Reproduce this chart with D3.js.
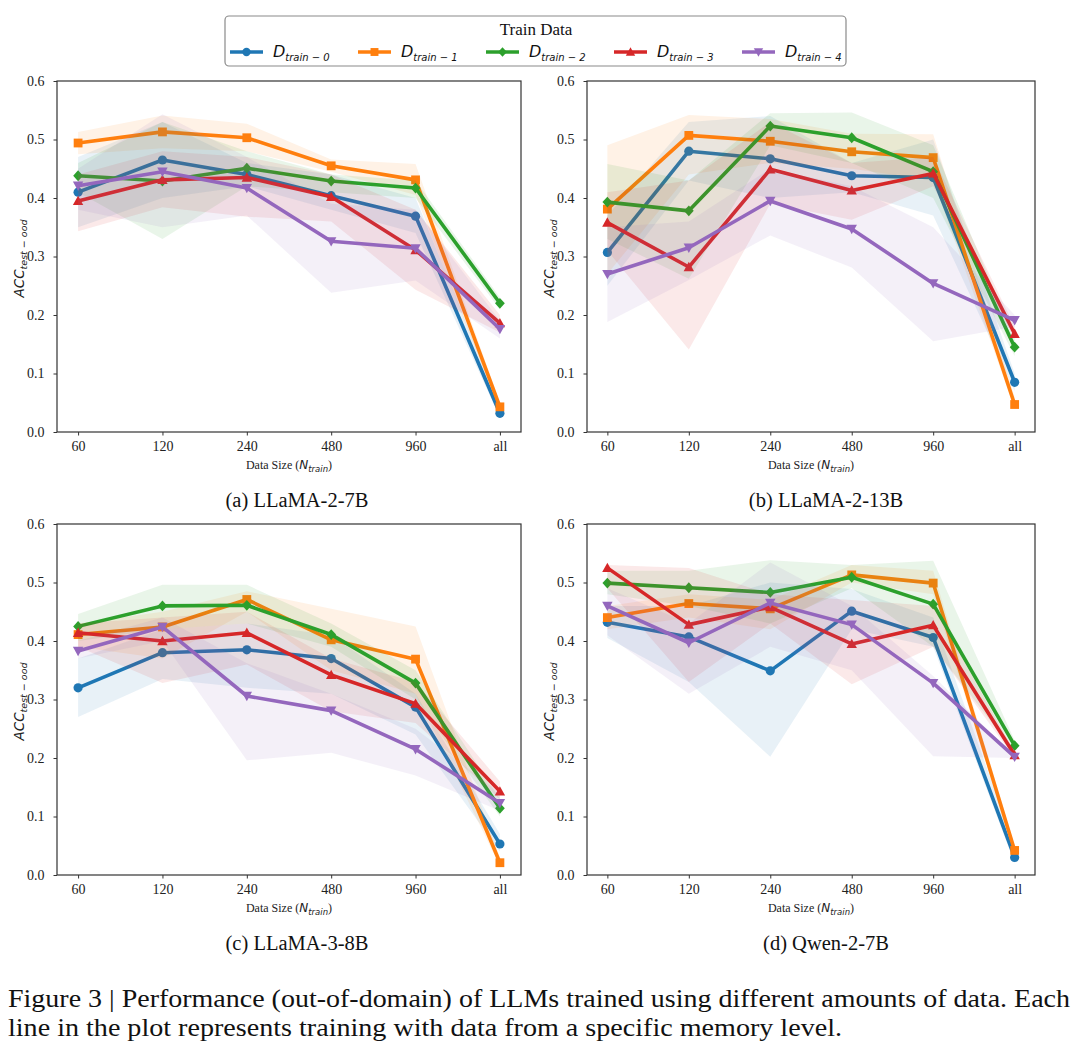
<!DOCTYPE html>
<html><head><meta charset="utf-8">
<script src="https://cdn.jsdelivr.net/npm/d3@7"></script>
<style>body{margin:0;background:#fff} svg{display:block}</style>
</head><body>
<svg id="fig" width="1080" height="1050"></svg>
<script>
// ---------------- data ----------------
const categories = ["60", "120", "240", "480", "960", "all"];
const seriesSubs = ["train − 0", "train − 1", "train − 2", "train − 3", "train − 4"];
const seriesColors = ["#1f77b4", "#ff7f0e", "#2ca02c", "#d62728", "#9467bd"];
const yTickValues = [0.0, 0.1, 0.2, 0.3, 0.4, 0.5, 0.6];
const subcaptions = ["(a) LLaMA-2-7B", "(b) LLaMA-2-13B", "(c) LLaMA-3-8B", "(d) Qwen-2-7B"];
const captionLines = [
  "Figure 3 | Performance (out-of-domain) of LLMs trained using different amounts of data. Each",
  "line in the plot represents training with data from a specific memory level."
];

// (a) LLaMA-2-7B
const llama2_7b_mean = [
  [0.410, 0.465, 0.440, 0.404, 0.369, 0.032],
  [0.494, 0.513, 0.503, 0.455, 0.431, 0.043],
  [0.438, 0.429, 0.451, 0.429, 0.417, 0.220],
  [0.395, 0.431, 0.435, 0.402, 0.311, 0.186],
  [0.421, 0.445, 0.417, 0.326, 0.314, 0.176]
];
const llama2_7b_lo = [
  [0.35, 0.40, 0.42, 0.38, 0.34, 0.025],
  [0.475, 0.485, 0.48, 0.445, 0.405, 0.035],
  [0.41, 0.33, 0.42, 0.41, 0.40, 0.21],
  [0.343, 0.384, 0.368, 0.36, 0.243, 0.17],
  [0.38, 0.35, 0.37, 0.238, 0.259, 0.16]
];
const llama2_7b_hi = [
  [0.47, 0.53, 0.46, 0.44, 0.40, 0.045],
  [0.513, 0.541, 0.527, 0.466, 0.458, 0.05],
  [0.46, 0.53, 0.48, 0.44, 0.43, 0.23],
  [0.44, 0.48, 0.47, 0.44, 0.38, 0.20],
  [0.45, 0.543, 0.47, 0.39, 0.38, 0.19]
];

// (b) LLaMA-2-13B
const llama2_13b_mean = [
  [0.307, 0.480, 0.467, 0.438, 0.435, 0.085],
  [0.381, 0.507, 0.497, 0.479, 0.469, 0.047],
  [0.393, 0.378, 0.523, 0.503, 0.445, 0.145],
  [0.358, 0.282, 0.449, 0.413, 0.442, 0.168],
  [0.270, 0.315, 0.395, 0.347, 0.254, 0.191]
];
const llama2_13b_lo = [
  [0.25, 0.43, 0.40, 0.41, 0.37, 0.07],
  [0.27, 0.44, 0.46, 0.45, 0.43, 0.04],
  [0.33, 0.262, 0.49, 0.46, 0.40, 0.13],
  [0.31, 0.141, 0.39, 0.363, 0.42, 0.16],
  [0.188, 0.26, 0.336, 0.281, 0.155, 0.18]
];
const llama2_13b_hi = [
  [0.37, 0.53, 0.54, 0.46, 0.50, 0.10],
  [0.49, 0.542, 0.535, 0.51, 0.509, 0.06],
  [0.458, 0.43, 0.545, 0.546, 0.49, 0.16],
  [0.41, 0.43, 0.53, 0.46, 0.47, 0.18],
  [0.35, 0.36, 0.45, 0.42, 0.35, 0.20]
];

// (c) LLaMA-3-8B
const llama3_8b_mean = [
  [0.320, 0.380, 0.385, 0.370, 0.287, 0.053],
  [0.411, 0.424, 0.471, 0.402, 0.369, 0.021],
  [0.425, 0.460, 0.461, 0.411, 0.328, 0.114],
  [0.414, 0.400, 0.414, 0.342, 0.293, 0.143],
  [0.383, 0.424, 0.306, 0.281, 0.215, 0.123]
];
const llama3_8b_lo = [
  [0.27, 0.335, 0.32, 0.31, 0.24, 0.04],
  [0.39, 0.37, 0.45, 0.35, 0.31, 0.015],
  [0.40, 0.42, 0.43, 0.39, 0.30, 0.10],
  [0.39, 0.328, 0.36, 0.28, 0.26, 0.13],
  [0.37, 0.40, 0.196, 0.209, 0.17, 0.11]
];
const llama3_8b_hi = [
  [0.37, 0.42, 0.43, 0.41, 0.31, 0.07],
  [0.43, 0.45, 0.485, 0.455, 0.425, 0.03],
  [0.446, 0.496, 0.496, 0.43, 0.35, 0.13],
  [0.43, 0.44, 0.45, 0.37, 0.33, 0.16],
  [0.40, 0.44, 0.362, 0.31, 0.25, 0.14]
];

// (d) Qwen-2-7B
const qwen2_7b_mean = [
  [0.432, 0.407, 0.349, 0.451, 0.406, 0.030],
  [0.440, 0.464, 0.455, 0.513, 0.499, 0.042],
  [0.499, 0.491, 0.483, 0.509, 0.463, 0.221],
  [0.525, 0.428, 0.458, 0.395, 0.427, 0.205],
  [0.460, 0.397, 0.465, 0.428, 0.328, 0.202]
];
const qwen2_7b_lo = [
  [0.405, 0.33, 0.202, 0.42, 0.39, 0.02],
  [0.42, 0.44, 0.42, 0.50, 0.48, 0.035],
  [0.48, 0.46, 0.43, 0.49, 0.39, 0.21],
  [0.49, 0.33, 0.43, 0.326, 0.39, 0.20],
  [0.41, 0.31, 0.39, 0.35, 0.203, 0.20]
];
const qwen2_7b_hi = [
  [0.46, 0.46, 0.50, 0.489, 0.44, 0.05],
  [0.46, 0.48, 0.47, 0.53, 0.52, 0.05],
  [0.52, 0.52, 0.538, 0.53, 0.537, 0.23],
  [0.53, 0.525, 0.48, 0.47, 0.46, 0.21],
  [0.49, 0.43, 0.534, 0.46, 0.34, 0.203]
];

// ---------------- layout ----------------
const panels = [
  {box: {x0: 57, x1: 521, y0: 81, y1: 432}, mean: llama2_7b_mean, lo: llama2_7b_lo, hi: llama2_7b_hi, capX: 297, capY: 507},
  {box: {x0: 587, x1: 1035, y0: 81, y1: 432}, mean: llama2_13b_mean, lo: llama2_13b_lo, hi: llama2_13b_hi, capX: 826, capY: 507},
  {box: {x0: 57, x1: 521, y0: 524, y1: 875}, mean: llama3_8b_mean, lo: llama3_8b_lo, hi: llama3_8b_hi, capX: 297, capY: 950},
  {box: {x0: 587, x1: 1035, y0: 524, y1: 875}, mean: qwen2_7b_mean, lo: qwen2_7b_lo, hi: qwen2_7b_hi, capX: 826, capY: 950}
];

const SERIF = "'Liberation Serif', 'Times New Roman', serif";
const SANS = "'DejaVu Sans', sans-serif";
const svg = d3.select("#fig");

function markerPath(i, s) {
  s = s || 1;
  if (i === 0) { return d3.symbol().type(d3.symbolCircle).size(Math.PI * 4.6 * 4.6 * s * s)(); }
  if (i === 1) { const h = 4.4 * s; return `M${-h},${-h}L${h},${-h}L${h},${h}L${-h},${h}Z`; }
  if (i === 2) { const w = 4.9 * s, hh = 5.4 * s; return `M0,${-hh}L${w},0L0,${hh}L${-w},0Z`; }
  if (i === 3) { const w = 5.2 * s; return `M0,${-w}L${w},${w * 0.8}L${-w},${w * 0.8}Z`; }
  const w = 5.2 * s; return `M0,${w}L${w},${-w * 0.8}L${-w},${-w * 0.8}Z`;
}

function drawPanel(p) {
  const b = p.box;
  const g = svg.append("g");
  const x = d3.scalePoint().domain(categories).range([b.x0, b.x1]).padding(0.25);
  const y = d3.scaleLinear().domain([0, 0.6]).range([b.y1, b.y0]);

  p.mean.forEach((m, i) => {
    const pts = categories.map((c, j) => ({c: c, v: m[j], lo: p.lo[i][j], hi: p.hi[i][j]}));
    g.append("path").datum(pts)
      .attr("d", d3.area().x(d => x(d.c)).y0(d => y(d.lo)).y1(d => y(d.hi)))
      .attr("fill", seriesColors[i]).attr("fill-opacity", 0.1).attr("stroke", "none");
    g.append("path").datum(pts)
      .attr("d", d3.line().x(d => x(d.c)).y(d => y(d.v)))
      .attr("fill", "none").attr("stroke", seriesColors[i]).attr("stroke-width", 3.6)
      .attr("stroke-linejoin", "round").attr("stroke-linecap", "round");
    g.selectAll(null).data(pts).enter().append("path")
      .attr("transform", d => `translate(${x(d.c)},${y(d.v)})`)
      .attr("d", markerPath(i)).attr("fill", seriesColors[i]);
  });

  // frame
  g.append("rect").attr("x", b.x0).attr("y", b.y0).attr("width", b.x1 - b.x0).attr("height", b.y1 - b.y0)
    .attr("fill", "none").attr("stroke", "#333").attr("stroke-width", 1.2);

  const ax = g.append("g").attr("transform", `translate(0,${b.y1})`)
    .call(d3.axisBottom(x).tickSize(3.5).tickPadding(5.5));
  ax.select(".domain").remove();
  ax.selectAll(".tick line").attr("stroke", "#333");
  ax.selectAll("text").attr("font-family", SERIF).attr("font-size", 14).attr("fill", "#222");

  const ay = g.append("g").attr("transform", `translate(${b.x0},0)`)
    .call(d3.axisLeft(y).tickValues(yTickValues).tickFormat(d3.format(".1f")).tickSize(3.5).tickPadding(9));
  ay.select(".domain").remove();
  ay.selectAll(".tick line").attr("stroke", "#333");
  ay.selectAll("text").attr("font-family", SERIF).attr("font-size", 14).attr("fill", "#222");

  // y label
  const yl = g.append("text")
    .attr("transform", `translate(${b.x0 - 33},${(b.y0 + b.y1) / 2 + 2}) rotate(-90)`)
    .attr("text-anchor", "middle").attr("fill", "#222");
  yl.append("tspan").attr("font-family", SANS).attr("font-style", "italic").attr("font-size", 13.5).text("ACC");
  yl.append("tspan").attr("font-family", SANS).attr("font-style", "italic").attr("font-size", 9.5).attr("dy", 3).text("test − ood");

  // x label
  const xl = g.append("text")
    .attr("x", (b.x0 + b.x1) / 2).attr("y", b.y1 + 37)
    .attr("text-anchor", "middle").attr("fill", "#222");
  xl.append("tspan").attr("font-family", SERIF).attr("font-size", 12).text("Data Size (");
  xl.append("tspan").attr("font-family", SANS).attr("font-style", "italic").attr("font-size", 12).text("N");
  xl.append("tspan").attr("font-family", SANS).attr("font-style", "italic").attr("font-size", 8.5).attr("dy", 2.5).text("train");
  xl.append("tspan").attr("font-family", SERIF).attr("font-size", 12).attr("dy", -2.5).text(")");

  // subcaption
  svg.append("text").attr("x", p.capX).attr("y", p.capY).attr("text-anchor", "middle")
    .attr("font-family", SERIF).attr("font-size", 20.5).attr("fill", "#111").text(p.cap);
}

panels.forEach((p, k) => { p.cap = subcaptions[k]; drawPanel(p); });

// ---------------- legend ----------------
const lg = svg.append("g");
lg.append("rect").attr("x", 225).attr("y", 16).attr("width", 621).attr("height", 50).attr("rx", 4)
  .attr("fill", "#fff").attr("stroke", "#8a8a8a").attr("stroke-width", 1.2);
lg.append("text").attr("x", 536).attr("y", 35).attr("text-anchor", "middle")
  .attr("font-family", SERIF).attr("font-size", 17).attr("fill", "#111").text("Train Data");
seriesSubs.forEach((s, i) => {
  const lx = 230 + i * 128;
  lg.append("line").attr("x1", lx).attr("x2", lx + 33).attr("y1", 52).attr("y2", 52)
    .attr("stroke", seriesColors[i]).attr("stroke-width", 3.5);
  lg.append("path").attr("transform", `translate(${lx + 16.5},52)`).attr("d", markerPath(i, 0.9)).attr("fill", seriesColors[i]);
  const t = lg.append("text").attr("x", lx + 43).attr("y", 57).attr("fill", "#111");
  t.append("tspan").attr("font-family", SANS).attr("font-style", "italic").attr("font-size", 16).text("D");
  t.append("tspan").attr("font-family", SANS).attr("font-style", "italic").attr("font-size", 10).attr("dy", 3.5).text(s);
});

// ---------------- caption ----------------
svg.append("text").attr("x", 8).attr("y", 1007).attr("font-family", SERIF).attr("font-size", 25)
  .attr("fill", "#111").attr("textLength", 1062).attr("lengthAdjust", "spacingAndGlyphs").text(captionLines[0]);
svg.append("text").attr("x", 8).attr("y", 1036).attr("font-family", SERIF).attr("font-size", 25)
  .attr("fill", "#111").attr("textLength", 834).attr("lengthAdjust", "spacingAndGlyphs").text(captionLines[1]);
</script>
</body></html>
